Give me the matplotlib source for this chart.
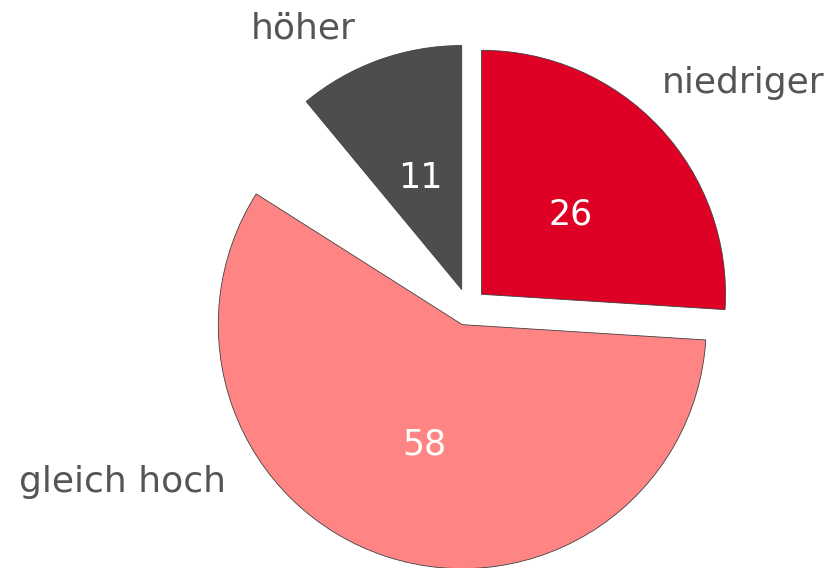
import matplotlib.pyplot as plt

categories = ["niedriger", "gleich hoch", "", "höher"]
values = [26, 58, 5, 11]  # the 5 is not shown in the chart (gap)
colors = ["#DE0025", "#FF8585", "white", "#4D4D4D"]
shown = [True, True, False, True]

# where the category names sit (data units, pie radius = 1)
label_pos = [(0.795, 0.918, "left"), (-1.414, -0.717, "center"), None, (-0.676, 1.143, "center")]

fig = plt.figure(figsize=(8.35, 5.68), dpi=100)
ax = fig.add_axes([0, 0, 1, 1])

wedges, _, autotexts = ax.pie(
    values,
    colors=colors,
    startangle=90,
    counterclock=False,
    explode=[0.076] * len(values),
    autopct=lambda p: f"{p:.0f}",
    pctdistance=0.5,
    wedgeprops=dict(edgecolor="#404040", linewidth=0.6),
    textprops=dict(color="white", fontsize=25, family="DejaVu Sans"),
)

for w, t, s in zip(wedges, autotexts, shown):
    t.set_va("center_baseline")
    if not s:
        w.set_visible(False)
        t.set_visible(False)

for name, pos in zip(categories, label_pos):
    if pos is None:
        continue
    x, y, ha = pos
    ax.text(x, y, name, ha=ha, va="center", fontsize=26, color="#555555")

ax.set_xlim(-468 / 244, (835 - 468) / 244)
ax.set_ylim(-261 / 244, 307 / 244)
ax.set_aspect("auto")
ax.axis("off")

fig.savefig("out.png", dpi=100)
